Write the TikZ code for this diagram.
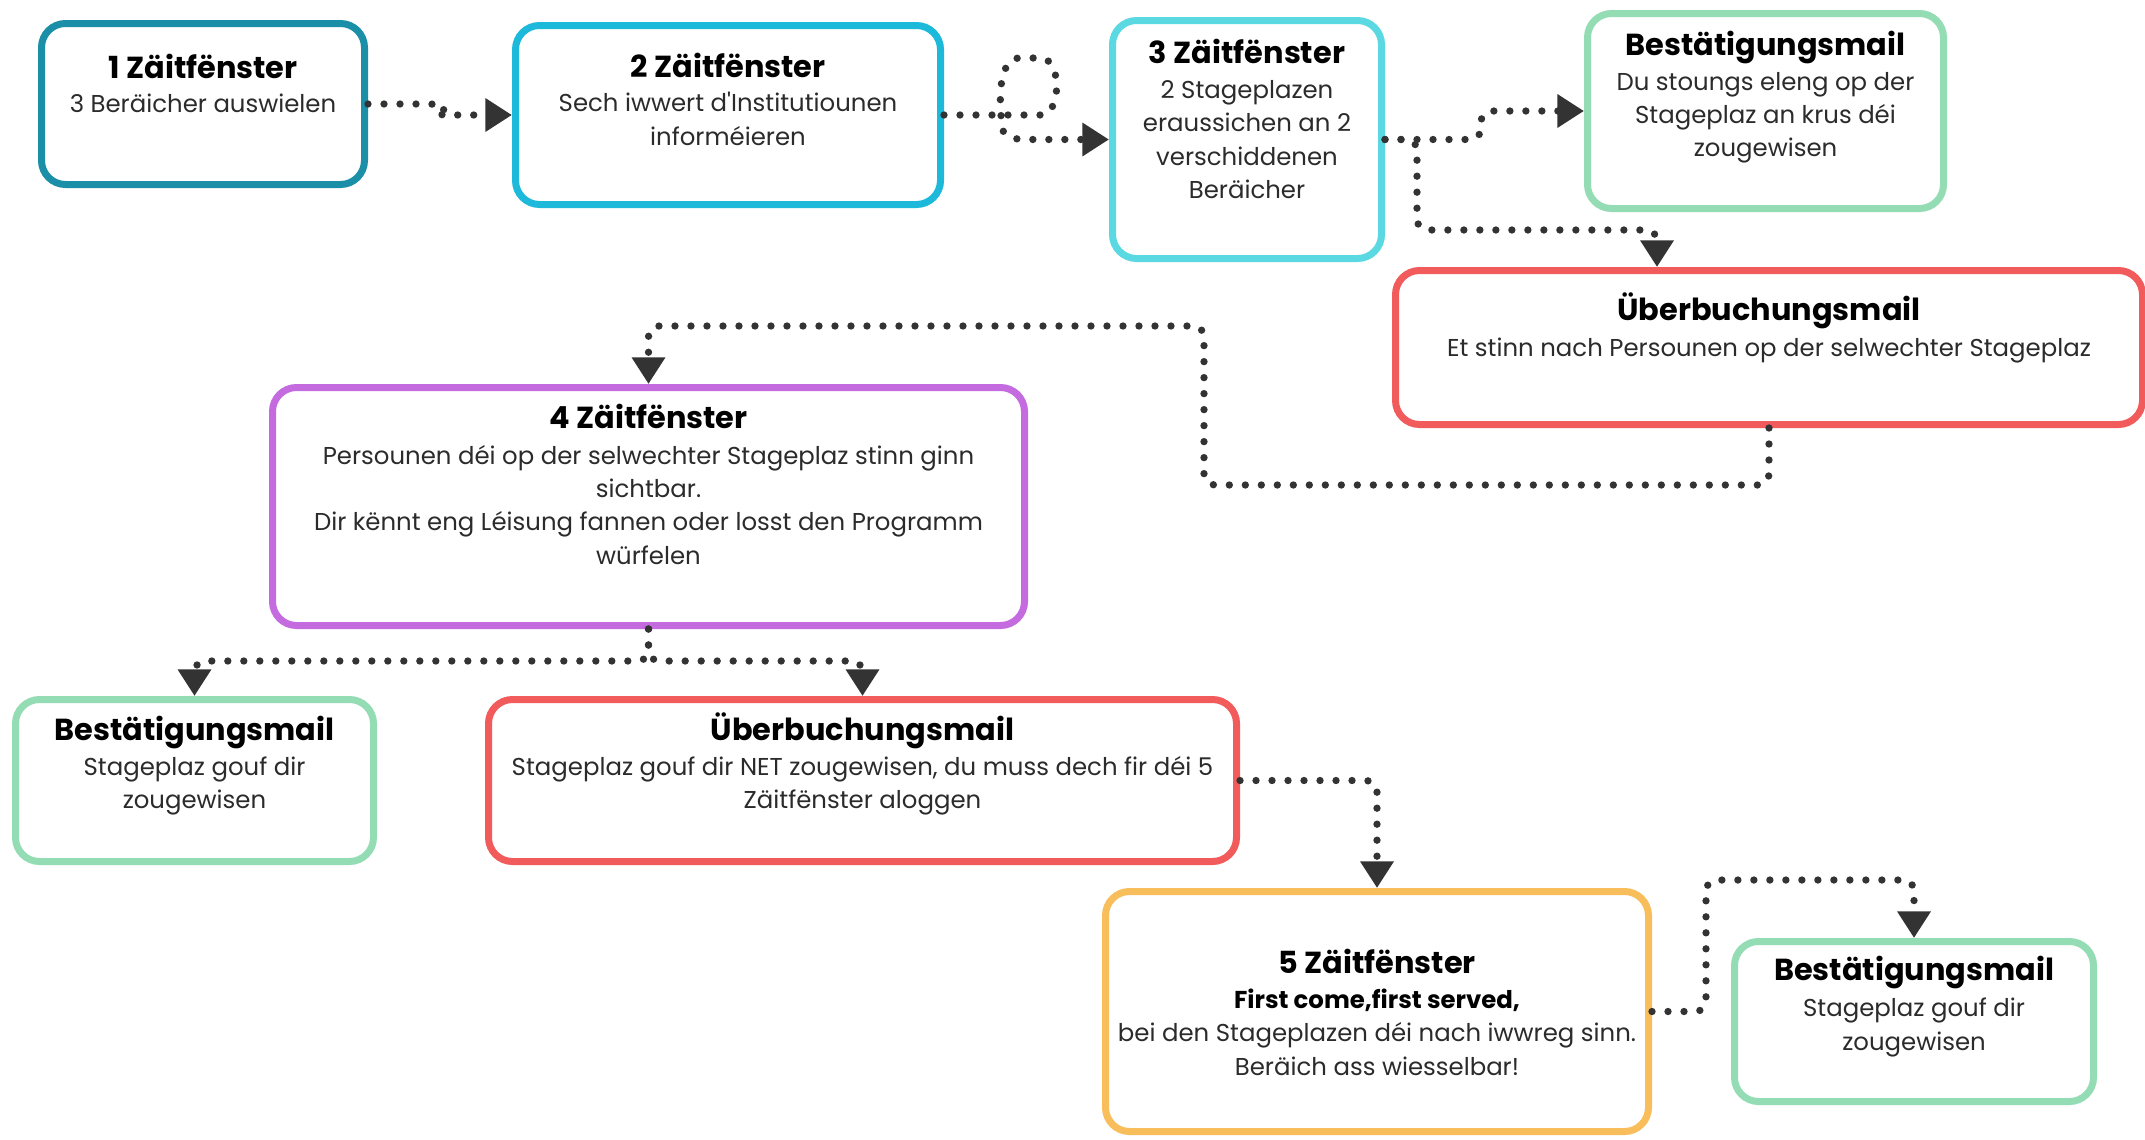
\documentclass[tikz,border=0pt]{standalone}
\usepackage{fontspec}
\setmainfont{Poppins}[Ligatures=TeXOff]
\usetikzlibrary{arrows.meta,calc}
\definecolor{cA}{HTML}{1C8FA8}
\definecolor{cB}{HTML}{1DB9DA}
\definecolor{cC}{HTML}{5BD9E2}
\definecolor{cG}{HTML}{94DDB4}
\definecolor{cR}{HTML}{F25B5B}
\definecolor{cP}{HTML}{C46BE0}
\definecolor{cO}{HTML}{F8BE5C}
\definecolor{dotc}{HTML}{333333}
\definecolor{txtg}{HTML}{2B2B2B}
\tikzset{
  bx/.style={draw=#1, line width=5.25pt, rounded corners=18pt, fill=white, inner sep=0pt},
  ttl/.style={font=\fontsize{22.8}{26}\selectfont\bfseries, text=black, anchor=base, inner sep=0pt},
  bdy/.style={font=\fontsize{18.3}{22}\selectfont, text=txtg, anchor=base, inner sep=0pt},
  bdyb/.style={font=\fontsize{18.3}{22}\selectfont\bfseries, text=black, anchor=base, inner sep=0pt},
  conn/.style={draw=dotc, line width=5.5pt, line cap=round, dash pattern=on 0pt off 12pt, rounded corners=8pt},
  tip/.style={-{Triangle[length=20pt,width=24pt]}}
}
\begin{document}
\begin{tikzpicture}[x=0.75pt,y=-0.75pt]
\useasboundingbox (0,0) rectangle (2145,1139);
\fill[white] (0,0) rectangle (2145,1139);

% boxes
\node[bx=cA, minimum width=242.25pt, minimum height=120.75pt] (b1) at (203,104) {};
\node[bx=cB, minimum width=318.75pt, minimum height=134.25pt] (b2) at (728,115) {};
\node[bx=cC, minimum width=201.75pt, minimum height=178.5pt] (b3) at (1247,139.5) {};
\node[bx=cG, minimum width=267pt, minimum height=146.25pt] (g1) at (1765.5,111) {};
\node[bx=cR, minimum width=560.25pt, minimum height=115.5pt] (u1) at (1769,347.5) {};
\node[bx=cP, minimum width=564pt, minimum height=178.5pt] (b4) at (648.5,506.5) {};
\node[bx=cG, minimum width=268.5pt, minimum height=121.5pt] (g2) at (194.5,780.5) {};
\node[bx=cR, minimum width=561pt, minimum height=121.5pt] (u2) at (862.5,780.5) {};
\node[bx=cO, minimum width=407.25pt, minimum height=180pt] (b5) at (1377,1011.5) {};
\node[bx=cG, minimum width=269.25pt, minimum height=120pt] (g3) at (1914,1021.5) {};

% texts
\node[ttl] (t1a) at (203,78) {1 Zäitfënster};
\node[bdy] (t1b) at (203,112) {3 Beräicher auswielen};

\node[ttl] (t2a) at (728,77) {2 Zäitfënster};
\node[bdy] (t2b) at (728,111) {Sech iwwert d'Institutiounen};
\node[bdy] (t2c) at (728,145) {informéieren};

\node[ttl] (t3a) at (1247,63) {3 Zäitfënster};
\node[bdy] (t3b) at (1247,98) {2 Stageplazen};
\node[bdy] (t3c) at (1247,131) {eraussichen an 2};
\node[bdy] (t3d) at (1247,165) {verschiddenen};
\node[bdy] (t3e) at (1247,198) {Beräicher};

\node[ttl] (tg1a) at (1765.5,55) {Bestätigungsmail};
\node[bdy] (tg1b) at (1765.5,90) {Du stoungs eleng op der};
\node[bdy] (tg1c) at (1765.5,123) {Stageplaz an krus déi};
\node[bdy] (tg1d) at (1765.5,156) {zougewisen};

\node[ttl] (tu1a) at (1769,320) {Überbuchungsmail};
\node[bdy] (tu1b) at (1769,356) {Et stinn nach Persounen op der selwechter Stageplaz};

\node[ttl] (t4a) at (648.5,428) {4 Zäitfënster};
\node[bdy] (t4b) at (648.5,464) {Persounen déi op der selwechter Stageplaz stinn ginn};
\node[bdy] (t4c) at (648.5,497) {sichtbar.};
\node[bdy] (t4d) at (648.5,530) {Dir kënnt eng Léisung fannen oder losst den Programm};
\node[bdy] (t4e) at (648.5,564) {würfelen};

\node[ttl] (tg2a) at (194.5,740) {Bestätigungsmail};
\node[bdy] (tg2b) at (194.5,775) {Stageplaz gouf dir};
\node[bdy] (tg2c) at (194.5,808) {zougewisen};

\node[ttl] (tu2a) at (862.5,740) {Überbuchungsmail};
\node[bdy] (tu2b) at (862.5,775) {Stageplaz gouf dir NET zougewisen, du muss dech fir déi 5};
\node[bdy] (tu2c) at (862.5,808) {Zäitfënster aloggen};

\node[ttl] (t5a) at (1377,973) {5 Zäitfënster};
\node[bdyb] (t5b) at (1377,1008) {First come,first served,};
\node[bdy] (t5c) at (1377,1041) {bei den Stageplazen déi nach iwwreg sinn.};
\node[bdy] (t5d) at (1377,1075) {Beräich ass wiesselbar!};

\node[ttl] (tg3a) at (1914,980) {Bestätigungsmail};
\node[bdy] (tg3b) at (1914,1016) {Stageplaz gouf dir};
\node[bdy] (tg3c) at (1914,1050) {zougewisen};

% connectors
\coordinate (k1) at (1657,230);
\coordinate (k2) at (1204,485);
\coordinate (k3) at (648.5,326);
\coordinate (k5) at (648.5,661);
\coordinate (k6) at (1706,880);

\draw[conn,tip] (b1.east) -- (442,104) -- (442,115) -- (b2.west);
\draw[conn,tip] (b2.east) -- (1030,115) .. controls (1062,115) and (1062,58) .. (1030,58)
   .. controls (1000,58) and (1000,95) .. (1001,115) .. controls (1002,135) and (1012,139.5) .. (1035,139.5) -- (b3.west);
\draw[conn,tip] (b3.east) -- (1481,139.5) |- (g1.west);
\draw[conn,tip] (b3.east) -- (1417,139.5) |- (k1) -- (k1 |- u1.north);
\draw[conn,tip] (u1.south) |- (k2) |- (k3) -- (b4.north);
\draw[conn,tip] (b4.south) -- (k5) -| (g2.north);
\draw[conn,tip] (b4.south) -- (k5) -| (u2.north);
\draw[conn,tip] (u2.east) -| (b5.north);
\draw[conn,tip] (b5.east) -| (k6) -| (g3.north);
\end{tikzpicture}
\end{document}
